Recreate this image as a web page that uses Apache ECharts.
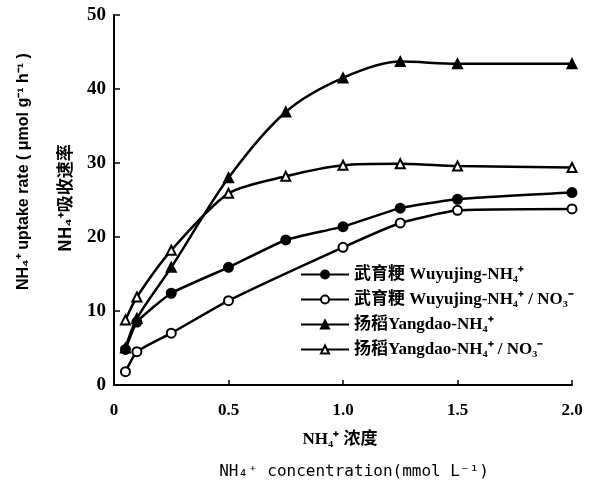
<!DOCTYPE html>
<html><head><meta charset="utf-8">
<script src="https://cdn.jsdelivr.net/npm/echarts@6/dist/echarts.min.js"></script>
<style>html,body{margin:0;padding:0;background:#fff}#c{width:602px;height:486px}</style>
</head><body><div id="c"></div>
<script>
var xTicks = [0, 0.5, 1.0, 1.5, 2.0];
var yTicks = [0, 10, 20, 30, 40, 50];
var seriesNames = ['武育粳 Wuyujing-NH₄⁺', '武育粳 Wuyujing-NH₄⁺ / NO₃⁻', '扬稻Yangdao-NH₄⁺', '扬稻Yangdao-NH₄⁺ / NO₃⁻'];
var wuyuNH4_x = [0.05, 0.1, 0.25, 0.5, 0.75, 1.0, 1.25, 1.5, 2.0];
var wuyuNH4_y = [4.8, 8.5, 12.4, 15.9, 19.6, 21.4, 23.9, 25.1, 26.0];
var wuyuMix_x = [0.05, 0.1, 0.25, 0.5, 1.0, 1.25, 1.5, 2.0];
var wuyuMix_y = [1.8, 4.5, 7.0, 11.4, 18.6, 21.9, 23.6, 23.8];
var yangNH4_x = [0.05, 0.1, 0.25, 0.5, 0.75, 1.0, 1.25, 1.5, 2.0];
var yangNH4_y = [5.0, 9.0, 15.9, 28.0, 36.9, 41.5, 43.7, 43.4, 43.4];
var yangMix_x = [0.05, 0.1, 0.25, 0.5, 0.75, 1.0, 1.25, 1.5, 2.0];
var yangMix_y = [8.8, 11.9, 18.2, 25.9, 28.2, 29.7, 29.9, 29.6, 29.4];

function pairs(xs, ys) { return xs.map(function (x, i) { return [x, ys[i]]; }); }

var chart = echarts.init(document.getElementById('c'), null, {renderer: 'canvas'});
var serif = '"Liberation Serif", "Noto Sans CJK SC", serif';
function mk(name, data, symbol, fill, smooth) {
  return {
    name: name, type: 'line', data: data, symbol: symbol, symbolSize: 9,
    smooth: smooth,
    lineStyle: {color: '#000', width: 2.5},
    itemStyle: {color: fill, borderColor: '#000', borderWidth: 2},
    z: 3
  };
}
chart.setOption({
  animation: false,
  backgroundColor: '#fff',
  grid: {left: 114, right: 30, top: 15, bottom: 101},
  xAxis: {
    type: 'value', min: 0, max: 2, interval: 0.5,
    axisLine: {lineStyle: {color: '#000', width: 2}},
    axisTick: {inside: true, length: 5, lineStyle: {color: '#000', width: 1.5}},
    splitLine: {show: false},
    axisLabel: {color: '#000', fontFamily: serif, fontWeight: 'bold', fontSize: 17, margin: 17,
      formatter: function (v) { return v === 0 ? '0' : v.toFixed(1); }}
  },
  yAxis: {
    type: 'value', min: 0, max: 50, interval: 10,
    axisLine: {show: true, lineStyle: {color: '#000', width: 2}},
    axisTick: {show: true, inside: true, length: 6, lineStyle: {color: '#000', width: 1.5}},
    splitLine: {show: false},
    axisLabel: {color: '#000', fontFamily: serif, fontWeight: 'bold', fontSize: 19, margin: 8}
  },
  legend: {
    orient: 'vertical', left: 300, top: 266, itemGap: 8, padding: 0,
    itemWidth: 48, itemHeight: 10,
    textStyle: {color: '#000', fontFamily: serif, fontSize: 17, fontWeight: 'bold'},
    data: seriesNames
  },
  graphic: [
    {type: 'text', x: 24, y: 290, rotation: Math.PI / 2, style: {
      text: 'NH₄⁺ uptake rate ( μmol g⁻¹ h⁻¹ )', fill: '#000', font: 'bold 16px "Liberation Sans", sans-serif', align: 'left', verticalAlign: 'middle'}},
    {type: 'text', x: 65, y: 252, rotation: Math.PI / 2, style: {
      text: 'NH₄⁺吸收速率', fill: '#000', font: 'bold 17px "Noto Sans CJK SC", sans-serif', align: 'left', verticalAlign: 'middle'}},
    {type: 'text', x: 340, y: 440, style: {
      text: 'NH₄⁺ 浓度', fill: '#000', font: 'bold 17px "Liberation Serif", "Noto Sans CJK SC", serif', align: 'center', verticalAlign: 'middle'}},
    {type: 'text', x: 354, y: 472, style: {
      text: 'NH₄⁺ concentration(mmol L⁻¹)', fill: '#000', font: '16px "DejaVu Sans Mono", monospace', align: 'center', verticalAlign: 'middle'}}
  ],
  series: [
    mk(seriesNames[0], pairs(wuyuNH4_x, wuyuNH4_y), 'circle', '#000', 0.15),
    mk(seriesNames[1], pairs(wuyuMix_x, wuyuMix_y), 'circle', '#fff', 0.15),
    mk(seriesNames[2], pairs(yangNH4_x, yangNH4_y), 'triangle', '#000', 0.3),
    mk(seriesNames[3], pairs(yangMix_x, yangMix_y), 'triangle', '#fff', 0.25)
  ]
});
</script></body></html>
